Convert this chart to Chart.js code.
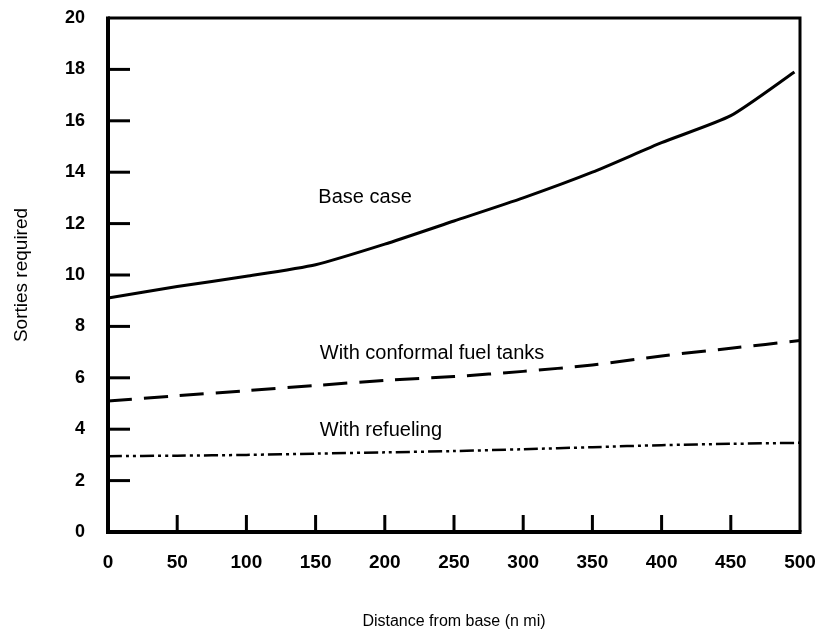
<!DOCTYPE html>
<html>
<head>
<meta charset="utf-8">
<script src="https://cdn.jsdelivr.net/npm/chart.js@4/dist/chart.umd.min.js"></script>
<style>
    body { margin: 0; background: #fff; }
    #wrap { width: 815px; height: 634px; }
</style>
</head>
<body>
<div id="wrap"><canvas id="chart" width="815" height="634"></canvas></div>
<script>
// Data
var distances = [0, 50, 100, 150, 200, 250, 300, 350, 400, 450, 500];
var baseDistances = [0, 50, 100, 150, 200, 250, 300, 350, 400, 450, 496];
var baseCase = [9.1, 9.55, 9.95, 10.4, 11.2, 12.1, 13.0, 14.0, 15.15, 16.2, 17.9];
var conformal = [5.1, 5.3, 5.5, 5.7, 5.9, 6.05, 6.25, 6.5, 6.85, 7.15, 7.45];
var refueling = [2.95, 2.97, 3.0, 3.05, 3.1, 3.15, 3.22, 3.3, 3.38, 3.43, 3.47];
var xTicks = [0, 50, 100, 150, 200, 250, 300, 350, 400, 450, 500];
var yTicks = [0, 2, 4, 6, 8, 10, 12, 14, 16, 18, 20];
var curveNames = ["Base case", "With conformal fuel tanks", "With refueling"];

var FONT = "'Liberation Sans', Arial, Helvetica, sans-serif";

function pairs(xs, ys) {
    var out = [];
    for (var i = 0; i < xs.length; i++) out.push({ x: xs[i], y: ys[i] });
    return out;
}

// frame, inward ticks and the curve labels
var framePlugin = {
    id: "frame",
    afterDraw: function(chart) {
        var ctx = chart.ctx;
        var a = chart.chartArea;
        var xs = chart.scales.x;
        var ys = chart.scales.y;
        ctx.save();
        ctx.strokeStyle = "#000";
        ctx.lineCap = "butt";

        ctx.lineWidth = 3;
        for (var i = 1; i < yTicks.length - 1; i++) {
            var py = ys.getPixelForValue(yTicks[i]);
            ctx.beginPath();
            ctx.moveTo(a.left, py);
            ctx.lineTo(a.left + 22, py);
            ctx.stroke();
        }
        for (var j = 1; j < xTicks.length - 1; j++) {
            var px = xs.getPixelForValue(xTicks[j]);
            ctx.beginPath();
            ctx.moveTo(px, a.bottom);
            ctx.lineTo(px, a.bottom - 17);
            ctx.stroke();
        }

        ctx.lineWidth = 3;
        ctx.beginPath();
        ctx.moveTo(a.left, a.top);
        ctx.lineTo(a.right, a.top);
        ctx.lineTo(a.right, a.bottom);
        ctx.stroke();
        ctx.lineWidth = 4;
        ctx.beginPath();
        ctx.moveTo(a.left, a.top - 1.5);
        ctx.lineTo(a.left, a.bottom);
        ctx.lineTo(a.right + 1.5, a.bottom);
        ctx.stroke();

        ctx.fillStyle = "#000";
        ctx.font = "20px " + FONT;
        ctx.textAlign = "left";
        ctx.textBaseline = "middle";
        var spots = [[152, 13.0], [153, 6.95], [153, 3.95]];
        for (var k = 0; k < curveNames.length; k++) {
            ctx.fillText(curveNames[k], xs.getPixelForValue(spots[k][0]), ys.getPixelForValue(spots[k][1]));
        }
        ctx.restore();
    }
};

var ctx = document.getElementById("chart").getContext("2d");
var chart = new Chart(ctx, {
    type: "line",
    data: {
        datasets: [
            {
                label: curveNames[0],
                data: pairs(baseDistances, baseCase),
                borderColor: "#000",
                borderWidth: 3,
                pointRadius: 0,
                tension: 0.2,
                fill: false
            },
            {
                label: curveNames[1],
                data: pairs(distances, conformal),
                borderColor: "#000",
                borderWidth: 3,
                borderDash: [24, 12],
                pointRadius: 0,
                tension: 0.3,
                fill: false
            },
            {
                label: curveNames[2],
                data: pairs(distances, refueling),
                borderColor: "#000",
                borderWidth: 2.5,
                borderDash: [14, 4, 3, 4, 3, 4],
                pointRadius: 0,
                tension: 0.3,
                fill: false
            }
        ]
    },
    options: {
        responsive: false,
        animation: false,
        layout: { padding: { top: 18, right: 15, bottom: 0, left: 0 } },
        plugins: {
            legend: { display: false },
            tooltip: { enabled: false }
        },
        scales: {
            x: {
                type: "linear",
                min: 0,
                max: 500,
                afterFit: function(scale) {
                    scale.height = 102;
                    scale.paddingLeft = 0;
                    scale.paddingRight = 0;
                },
                afterBuildTicks: function(scale) {
                    scale.ticks = xTicks.map(function(v) { return { value: v }; });
                },
                grid: { display: false, drawTicks: false },
                border: { display: false },
                ticks: {
                    color: "#000",
                    font: { family: FONT, size: 19, weight: "bold" },
                    padding: 19,
                    maxRotation: 0
                },
                title: {
                    display: true,
                    text: "Distance from base (n mi)",
                    color: "#000",
                    font: { family: FONT, size: 16 },
                    padding: { top: 0, bottom: 3 }
                }
            },
            y: {
                type: "linear",
                min: 0,
                max: 20,
                afterFit: function(scale) {
                    scale.width = 108;
                    scale.paddingTop = 0;
                    scale.paddingBottom = 0;
                },
                afterBuildTicks: function(scale) {
                    scale.ticks = yTicks.map(function(v) { return { value: v }; });
                },
                grid: { display: false, drawTicks: false },
                border: { display: false },
                ticks: {
                    color: "#000",
                    font: { family: FONT, size: 18, weight: "bold" },
                    padding: 23
                },
                title: {
                    display: true,
                    text: "Sorties required",
                    color: "#000",
                    font: { family: FONT, size: 19 },
                    padding: { top: 10, bottom: 0 }
                }
            }
        }
    },
    plugins: [framePlugin]
});
</script>
</body>
</html>
